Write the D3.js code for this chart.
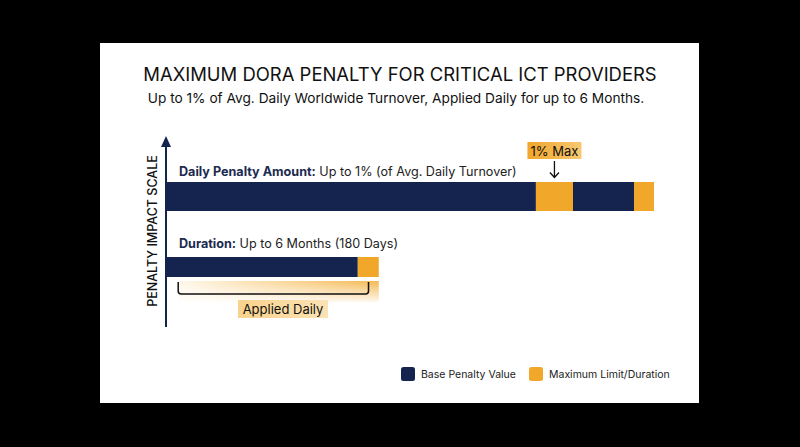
<!DOCTYPE html>
<html><head><meta charset="utf-8">
<script src="https://cdn.jsdelivr.net/npm/d3@7"></script>
<style>
html,body{margin:0;padding:0;background:#000;}
svg{display:block;font-family:Inter,"Noto Sans",Roboto,sans-serif;}
</style></head>
<body>
<script>
// ---- data ----
const title = "MAXIMUM DORA PENALTY FOR CRITICAL ICT PROVIDERS";
const subtitle = "Up to 1% of Avg. Daily Worldwide Turnover, Applied Daily for up to 6 Months.";
const categories = ["Daily Penalty Amount", "Duration"];
const categoryBold = ["Daily Penalty Amount:", "Duration:"];
const categoryRest = [" Up to 1% (of Avg. Daily Turnover)", " Up to 6 Months (180 Days)"];
const dailySegments = [75.8, 7.6, 12.5, 4.1];
const dailyTypes = ["base", "max", "base", "max"];
const durationSegments = [39.3, 4.3];
const durationTypes = ["base", "max"];
const legendLabels = ["Base Penalty Value", "Maximum Limit/Duration"];
const legendKeys = ["base", "max"];
const axisLabel = "PENALTY IMPACT SCALE";
const maxLabel = "1% Max";
const bracketLabel = "Applied Daily";

// ---- layout ----
const W = 800, H = 447;
const navy = "#15244f", orange = "#f1a82a";
const color = d3.scaleOrdinal().domain(legendKeys).range([navy, orange]);

const svg = d3.select("body").append("svg").attr("width", W).attr("height", H);
svg.append("rect").attr("width", W).attr("height", H).attr("fill", "#000");

const defs = svg.append("defs");
const glow = defs.append("linearGradient").attr("id", "glow");
glow.append("stop").attr("offset", "0%").attr("stop-color", "#fff6e6");
glow.append("stop").attr("offset", "100%").attr("stop-color", "#f2ad33");
const fadeV = defs.append("linearGradient").attr("id", "fadeV").attr("x1", 0).attr("x2", 0).attr("y1", 0).attr("y2", 1);
fadeV.append("stop").attr("offset", "0%").attr("stop-color", "#fff").attr("stop-opacity", 0);
fadeV.append("stop").attr("offset", "100%").attr("stop-color", "#fff").attr("stop-opacity", 0.95);
const boxGrad = defs.append("linearGradient").attr("id", "boxGrad");
boxGrad.append("stop").attr("offset", "0%").attr("stop-color", "#f9d38c");
boxGrad.append("stop").attr("offset", "100%").attr("stop-color", "#fbe2b4");
const maxGrad = defs.append("linearGradient").attr("id", "maxGrad");
maxGrad.append("stop").attr("offset", "0%").attr("stop-color", "#f0a62a");
maxGrad.append("stop").attr("offset", "100%").attr("stop-color", "#f7c872");

// panel
svg.append("rect").attr("x", 100).attr("y", 43).attr("width", 599).attr("height", 360)
  .attr("fill", "#fff");

// titles
function fitText(sel, target) {
  const len = sel.node().getComputedTextLength();
  const fs = parseFloat(sel.attr("font-size"));
  sel.attr("font-size", (fs * target / len).toFixed(2));
}
const t = svg.append("text").attr("x", 400).attr("y", 81).attr("text-anchor", "middle")
  .attr("font-size", 21).attr("fill", "#111").attr("font-weight", 400).text(title);
fitText(t, 514);
const st = svg.append("text").attr("x", 396).attr("y", 103).attr("text-anchor", "middle")
  .attr("font-size", 15).attr("fill", "#111").text(subtitle);
fitText(st, 497);

// scales
const x = d3.scaleLinear().domain([0, 100]).range([166, 654]);
const y = d3.scalePoint().domain(categories).range([196.5, 267]);
const barH = { "Daily Penalty Amount": 29, "Duration": 20 };

function stack(vals, types) {
  let acc = 0;
  return vals.map((v, i) => { const s = { x0: acc, x1: acc + v, type: types[i] }; acc += v; return s; });
}
const bars = [
  { cat: categories[0], segs: stack(dailySegments, dailyTypes) },
  { cat: categories[1], segs: stack(durationSegments, durationTypes) }
];

// bracket glow (under duration bar)
const dEnd = d3.sum(durationSegments);
svg.append("rect").attr("x", x(2.5)).attr("y", 281).attr("width", x(dEnd) - x(2.5)).attr("height", 21)
  .attr("fill", "url(#glow)").attr("opacity", 0.85);
svg.append("rect").attr("x", x(2.5) - 1).attr("y", 281).attr("width", x(dEnd) - x(2.5) + 2).attr("height", 22)
  .attr("fill", "url(#fadeV)");

bars.forEach(b => {
  svg.append("g").selectAll("rect").data(b.segs).join("rect")
    .attr("x", d => x(d.x0)).attr("width", d => x(d.x1) - x(d.x0))
    .attr("y", y(b.cat) - barH[b.cat] / 2).attr("height", barH[b.cat])
    .attr("fill", d => color(d.type));
});

// category labels
categories.forEach((c, i) => {
  const ty = y(c) - barH[c] / 2 - (i === 0 ? 6 : 9);
  const tx = svg.append("text").attr("x", 179).attr("y", ty).attr("font-size", 12.6).attr("fill", "#222");
  tx.append("tspan").attr("font-weight", 700).attr("fill", "#1c2a50").text(categoryBold[i]);
  tx.append("tspan").text(categoryRest[i]);
});

// bracket
const bx0 = x(2.5), bx1 = x(41.5), by0 = 282, by1 = 294, r = 3;
svg.append("path")
  .attr("d", `M${bx0},${by0} V${by1 - r} Q${bx0},${by1} ${bx0 + r},${by1} H${bx1 - r} Q${bx1},${by1} ${bx1},${by1 - r} V${by0}`)
  .attr("fill", "none").attr("stroke", "#111").attr("stroke-width", 1.5);

// Applied Daily label
svg.append("rect").attr("x", 238).attr("y", 300).attr("width", 90).attr("height", 18).attr("fill", "url(#boxGrad)");
svg.append("text").attr("x", 283).attr("y", 314).attr("text-anchor", "middle").attr("font-size", 13)
  .attr("fill", "#111").text(bracketLabel);

// 1% Max callout
const mx = x(dailySegments[0] + dailySegments[1] / 2);
svg.append("rect").attr("x", mx - 27).attr("y", 142).attr("width", 54).attr("height", 17).attr("fill", "url(#maxGrad)");
svg.append("text").attr("x", mx).attr("y", 155.5).attr("text-anchor", "middle").attr("font-size", 13)
  .attr("fill", "#111").text(maxLabel);
svg.append("path").attr("d", `M${mx},161 V177 M${mx - 4.5},172.5 L${mx},177.5 L${mx + 4.5},172.5`)
  .attr("fill", "none").attr("stroke", "#111").attr("stroke-width", 1.3);

// y axis with arrow
svg.append("line").attr("x1", 166).attr("x2", 166).attr("y1", 327).attr("y2", 145)
  .attr("stroke", navy).attr("stroke-width", 2);
svg.append("path").attr("d", "M166,136 L171,147 L161,147 Z").attr("fill", navy);
svg.append("text").attr("transform", "translate(157,231) rotate(-90)").attr("text-anchor", "middle")
  .attr("font-size", 12.5).attr("font-weight", 500).attr("fill", "#111").text(axisLabel);

// legend
const lg = svg.append("g");
const legX = [401, 529];
legendKeys.forEach((k, i) => {
  lg.append("rect").attr("x", legX[i]).attr("y", 367).attr("width", 14).attr("height", 14).attr("rx", 2.5)
    .attr("fill", color(k));
  lg.append("text").attr("x", legX[i] + 20).attr("y", 378).attr("font-size", 10.5).attr("fill", "#222").text(legendLabels[i]);
});
</script>
</body></html>
